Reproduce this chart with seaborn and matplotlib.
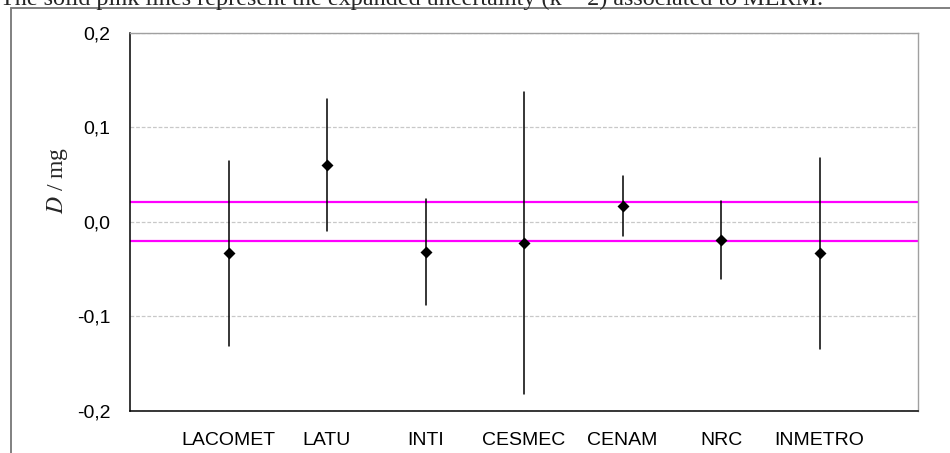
import matplotlib
matplotlib.use("Agg")
import matplotlib.pyplot as plt
from matplotlib.lines import Line2D
import pandas as pd
import seaborn as sns

# ---------------------------------------------------------------
# Dati
# ---------------------------------------------------------------
labs = ["LACOMET", "LATU", "INTI", "CESMEC", "CENAM", "NRC", "INMETRO"]
D_vals = [-0.033, 0.060, -0.032, -0.022, 0.017, -0.019, -0.033]
U_vals = [0.098, 0.070, 0.056, 0.160, 0.032, 0.041, 0.101]
merm_band = [0.021, -0.020]          # linee rosa (incertezza MERM)
y_ticks = [-0.2, -0.1, 0.0, 0.1, 0.2]
y_ticklabels = ["-0,2", "-0,1", "0,0", "0,1", "0,2"]
caption = "The solid pink lines represent the expanded uncertainty (k = 2) associated to MERM."

# tabella lunga: per ogni lab  D-U, D, D+U  -> mediana = D, range = barra
rows = []
for lab, d, u in zip(labs, D_vals, U_vals):
    for v in (d - u, d, d + u):
        rows.append({"lab": lab, "D": v})
df = pd.DataFrame(rows)

sns.set_theme(style="white")
plt.rcParams["font.family"] = ["Liberation Sans", "DejaVu Sans"]

fig = plt.figure(figsize=(9.5, 4.53), dpi=100)
ax = fig.add_axes([130 / 950, 1 - 411 / 453, 788 / 950, 378 / 453])

sns.pointplot(data=df, x="lab", y="D", order=labs, estimator="median",
              errorbar=("pi", 100), color="black", markers="D",
              linestyles="none", markersize=4.5, err_kws={"linewidth": 1.1},
              ax=ax, zorder=3)

for yv in merm_band:
    ax.axhline(yv, color="#ff00ff", lw=1.6, zorder=2)

ax.set_xlim(-1, 7)
ax.set_ylim(-0.2, 0.2)
ax.set_yticks(y_ticks)
ax.set_yticklabels(y_ticklabels)
ax.yaxis.grid(True, color="#c8c8c8", linestyle=(0, (3, 1.5)), lw=0.9)
ax.set_axisbelow(True)
ax.tick_params(axis="both", length=0, labelsize=14, colors="black")
ax.tick_params(axis="y", pad=14)
ax.tick_params(axis="x", pad=15)
ax.set_xlabel("")
ax.set_ylabel("$D$ / mg", family="Liberation Serif", fontsize=17,
              math_fontfamily="stix")
ax.yaxis.set_label_coords(-0.076, 0.61)

for s in ("left", "bottom"):
    ax.spines[s].set_color("black")
    ax.spines[s].set_linewidth(1.1)
for s in ("top", "right"):
    ax.spines[s].set_color("#a0a0a0")
    ax.spines[s].set_linewidth(1.0)

# cornice esterna grigia + didascalia tagliata in alto
fig.add_artist(Line2D([11 / 950, 11 / 950], [0, 1 - 8 / 453],
                      transform=fig.transFigure, color="#808080", lw=1.4))
fig.add_artist(Line2D([11 / 950, 1], [1 - 8 / 453, 1 - 8 / 453],
                      transform=fig.transFigure, color="#808080", lw=1.4))
fig.text(0.0, 1 - 5 / 453, caption, family="Liberation Serif", fontsize=17.4,
         va="baseline", ha="left")

fig.savefig("out.png", dpi=100)
